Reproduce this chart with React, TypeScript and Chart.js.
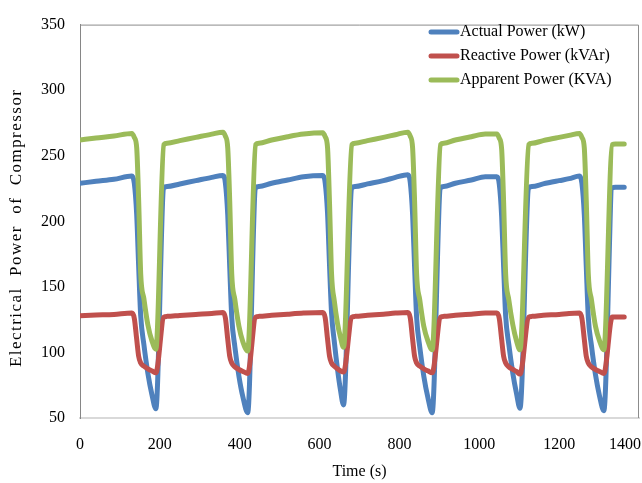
import React, { useEffect, useRef } from "react";
import { Chart, registerables } from "chart.js";

Chart.register(...registerables);

const timeS = [
  0, 40, 85,
  130, 136, 142, 147, 152, 160, 170, 180, 190, 210, 218, 250, 290, 330,
  358, 364, 370, 375, 380, 388, 398, 408, 420, 440, 448, 480, 520, 560,
  608, 614, 620, 625, 630, 637, 645, 652, 660, 681, 689, 720, 760, 790,
  821, 827, 833, 838, 843, 851, 861, 871, 882, 903, 911, 940, 980, 1015,
  1044, 1050, 1056, 1061, 1066, 1074, 1084, 1093, 1102, 1124, 1132, 1160, 1200, 1225,
  1251, 1257, 1263, 1268, 1273, 1281, 1291, 1301, 1312, 1333, 1341, 1363,
];

const actualKW = [
  229, 230.5, 232,
  234.5, 229, 205, 165, 128, 106, 84, 68, 57, 225.5, 226.5, 228.5, 231, 233.5,
  235, 229.5, 205, 165, 127, 104, 82, 66, 54, 225.5, 226.5, 229, 231.5, 234,
  235, 229.5, 206, 166, 130, 108, 87, 72, 60, 225.5, 226.5, 228.5, 231, 233.5,
  235.5, 230, 205, 165, 127, 104, 82, 66, 54, 225.5, 226.5, 229, 231.5, 234,
  234, 228.5, 204, 165, 128, 106, 84, 69, 57.5, 225.5, 226.5, 228.5, 231, 232.5,
  234.5, 229, 205, 165, 127, 105, 83, 67, 55.5, 225.5, 226, 226,
];

const reactiveKVAr = [
  128, 128.5, 129,
  130, 126, 110, 97, 92, 89.5, 87.5, 86, 84.5, 127, 127.5, 128.2, 129, 129.7,
  130.5, 126.5, 110, 97, 92, 89, 87, 85.5, 84, 127, 127.5, 128.3, 129.2, 130,
  130.5, 126.5, 110, 97, 92, 89.5, 87.5, 86, 85, 127, 127.5, 128.3, 129.2, 130,
  130.5, 126.5, 110, 97, 92, 89.5, 87.5, 86, 84.5, 127, 127.5, 128.3, 129.2, 130,
  130, 126, 110, 97, 92, 89, 87, 85.5, 83.5, 127, 127.5, 128.3, 129, 129.7,
  130, 126, 110, 97, 92, 89, 87, 85.5, 84, 127, 127, 127,
];

const apparentKVA = [
  262, 263.5, 265,
  267, 264, 256, 215, 160, 141, 121, 109, 102.5, 258.5, 259.5, 261.5, 264, 266.5,
  268, 265, 256, 215, 160, 140, 120, 108, 101, 258.5, 259.5, 262, 264.5, 266.5,
  267.5, 264.5, 256, 213, 160, 139, 122, 112, 104, 258.5, 259.5, 261.5, 264, 266,
  268, 265, 256, 215, 160, 140, 120, 109, 102, 258.5, 259.5, 262, 264.5, 266.5,
  266.5, 263.5, 255, 214, 160, 140, 121, 109, 102, 258.5, 259.5, 261.5, 264, 265.5,
  267, 264, 256, 215, 160, 140, 120, 109, 102, 258.5, 259, 259,
];

const seriesLabels = ["Actual Power (kW)", "Reactive Power (kVAr)", "Apparent Power (KVA)"];
const seriesColors = ["#4f81bd", "#c0504d", "#9bbb59"];
const xTitle = "Time (s)";
const yTitle = "Electrical  Power  of  Compressor";

const FONT = '"Liberation Serif", "Times New Roman", serif';

const overlayPlugin = {
  id: "overlay",
  beforeDatasetsDraw(chart: any) {
    const { ctx, chartArea: a } = chart;
    ctx.save();
    ctx.strokeStyle = "#8c8c8c";
    ctx.lineWidth = 1;
    ctx.beginPath();
    ctx.moveTo(a.left, a.top + 0.5);
    ctx.lineTo(a.right - 0.5, a.top + 0.5);
    ctx.lineTo(a.right - 0.5, a.bottom);
    ctx.stroke();
    ctx.restore();
  },
  afterDraw(chart: any) {
    const { ctx, chartArea: a } = chart;
    const xs = chart.scales.x;
    ctx.save();
    ctx.fillStyle = "#000";
    ctx.font = `16px ${FONT}`;
    ctx.textBaseline = "middle";
    ctx.textAlign = "center";
    xs.ticks.forEach((t: any) => {
      const s = String(t.value);
      const w = ctx.measureText(s).width;
      let px = xs.getPixelForValue(t.value);
      px = Math.min(px, chart.width - w / 2 - 1);
      ctx.fillText(s, px, a.bottom + 27);
    });
    ctx.fillText(xTitle, (a.left + a.right) / 2, a.bottom + 54);

    // y title
    ctx.save();
    ctx.font = `17px ${FONT}`;
    const w0 = ctx.measureText(yTitle).width;
    const target = 277;
    const ls = (target - w0) / (yTitle.length - 1);
    ctx.translate(16.5, 228.5);
    ctx.rotate(-Math.PI / 2);
    (ctx as any).letterSpacing = `${ls}px`;
    ctx.textAlign = "left";
    ctx.fillText(yTitle, -target / 2, 0);
    ctx.restore();

    // legend
    const rows = [32, 56, 80];
    seriesLabels.forEach((lab, i) => {
      ctx.strokeStyle = seriesColors[i];
      ctx.lineWidth = 5;
      ctx.lineCap = "round";
      ctx.beginPath();
      ctx.moveTo(431, rows[i]);
      ctx.lineTo(457, rows[i]);
      ctx.stroke();
      ctx.fillStyle = "#000";
      ctx.font = `16px ${FONT}`;
      ctx.textAlign = "left";
      ctx.fillText(lab, 460, rows[i]);
    });
    ctx.restore();
  },
};

export default function App() {
  const ref = useRef<HTMLCanvasElement>(null);
  useEffect(() => {
    if (!ref.current) return;
    const mk = (vals: number[]) => timeS.map((t, i) => ({ x: t, y: vals[i] }));
    const chart = new Chart(ref.current, {
      type: "line",
      data: {
        datasets: [
          { label: seriesLabels[0], data: mk(actualKW), borderColor: seriesColors[0], order: 2 },
          { label: seriesLabels[1], data: mk(reactiveKVAr), borderColor: seriesColors[1], order: 1 },
          { label: seriesLabels[2], data: mk(apparentKVA), borderColor: seriesColors[2], order: 0 },
        ],
      },
      options: {
        responsive: false,
        animation: false,
        layout: { padding: { top: 18, right: 3, left: 0, bottom: 0 } },
        elements: {
          point: { radius: 0, hoverRadius: 0 },
          line: {
            borderWidth: 5,
            cubicInterpolationMode: "monotone",
            borderCapStyle: "round",
            borderJoinStyle: "round",
            fill: false,
          },
        },
        plugins: { legend: { display: false }, tooltip: { enabled: false }, title: { display: false } },
        scales: {
          x: {
            type: "linear",
            min: 0,
            max: 1400,
            ticks: { stepSize: 200, display: false },
            grid: { display: false, drawTicks: false },
            border: { display: true, color: "#d9d9d9", width: 2 },
            afterFit: (s: any) => {
              s.height = 65;
            },
          },
          y: {
            type: "linear",
            min: 50,
            max: 350,
            ticks: {
              stepSize: 50,
              padding: 15,
              color: "#000",
              font: { family: FONT, size: 16 },
            },
            grid: { display: false, drawTicks: false },
            border: { display: true, color: "#868686", width: 1 },
            afterFit: (s: any) => {
              s.width = 80;
            },
          },
        },
      },
      plugins: [overlayPlugin],
    } as any);
    return () => chart.destroy();
  }, []);
  return (
    <div style={{ position: "fixed", left: 0, top: 0, width: 642, height: 483, background: "#fff" }}>
      <canvas ref={ref} width={642} height={483} style={{ display: "block" }} />
    </div>
  );
}
